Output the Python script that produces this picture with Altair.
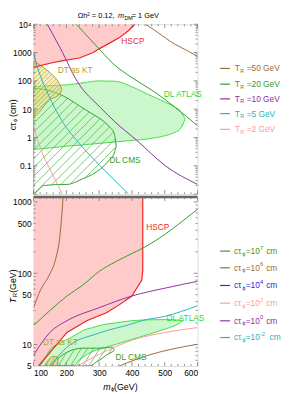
import numpy as np
import pandas as pd
import altair as alt

FONT = "Liberation Sans"
W, H1, H2 = 167, 173, 172
XDOM = [100, 600]
Y1DOM = [0.01, 1e4]
Y2DOM = [5, 1170]

# ---------------- top panel: c tau vs m_phi for fixed T_R ----------------
tr_names = ["TR50", "TR20", "TR10", "TR5", "TR2"]
tr_labels = ["=50 GeV", "=20 GeV", "=10 GeV", "=5 GeV", "=2 GeV"]
tr_colors = ["#9d6a3a", "#2e9e2e", "#8f2f9f", "#2bb5b5", "#ff9a9a"]
tr50_m = [442, 480, 530, 570, 600]
tr50_ct = [1e4, 5000, 2000, 1150, 720]
tr20_m = [230, 290, 343, 400, 470, 530, 600]
tr20_ct = [1e4, 1800, 400, 130, 40, 12, 2.6]
tr10_m = [142, 182, 236, 303, 348, 415, 502, 600]
tr10_ct = [1e4, 1400, 85, 11.7, 3.6, 0.79, 0.1, 0.022]
tr5_m = [100, 106, 145, 186, 242, 303, 390]
tr5_ct = [1000, 530, 33, 4, 0.57, 0.1, 0.01]
tr2_m = [100, 127, 158, 188]
tr2_ct = [2.4, 0.28, 0.049, 0.01]

# regions (top)
hscp1_m = [100, 150, 190, 240, 282, 300, 361, 390, 409]
hscp1_lo = [300, 420, 520, 640, 1000, 1350, 3300, 6000, 1e4]
dt1_m = [100, 112, 130, 151, 171, 181, 186]
dt1_up = [500, 420, 300, 190, 110, 70, 49]
dt1_lo = [5.3, 6.7, 12, 22, 28, 36, 49]
atl1_m = [100, 150, 200, 250, 300, 350, 400, 450, 500, 530, 550, 562]
atl1_up = [62, 68, 72, 85, 100, 97, 62, 33, 18, 12, 8, 4.5]
atl1_lo = [0.38, 0.43, 0.49, 0.55, 0.62, 0.7, 0.79, 0.9, 1.15, 1.5, 2.2, 4.5]
cms1_m = [100, 115, 130, 150, 181, 202, 232, 250, 280, 301, 331, 346, 352]
cms1_up = [55, 53, 50, 45, 33, 25, 15, 11, 6.7, 4.8, 2.4, 1.4, 0.5]
cms1_lo = [0.01, 0.014, 0.02, 0.021, 0.022, 0.022, 0.028, 0.035, 0.05, 0.073, 0.16, 0.28, 0.5]

# ---------------- bottom panel: T_R vs m_phi for fixed c tau ----------------
ct_names = ["CT7", "CT6", "CT4", "CT2", "CT0", "CTm2"]
ct_exps = ["7", "6", "4", "2", "0", "-2"]
ct_colors = ["#3a9a2a", "#9d6a3a", "#2a2ae6", "#ff9a9a", "#8f2f9f", "#2bb5b5"]
ct7_m = [100, 121, 151, 166, 181, 188, 190]
ct7_T = [32.7, 58, 100, 150, 355, 850, 1170]
ct6_m = [100, 150, 202, 250, 301, 350, 400, 433, 502, 550, 600]
ct6_T = [18.5, 30, 48, 68, 107, 145, 189, 225, 355, 520, 790]
ct4_m = [100, 150, 202, 301, 400, 502, 600]
ct4_T = [7.1, 14.8, 21.6, 33, 48, 62, 77]
ct2_m = [150, 200, 300, 400, 430, 502, 600]
ct2_T = [5, 9, 14.5, 19.5, 21.6, 25, 35]
ct0_m = [232, 301, 400, 502, 600]
ct0_T = [5, 7.3, 11.5, 14.8, 17.3]
ctm2_m = [361, 451, 600]
ctm2_T = [5, 7.1, 10.1]

hscp2_m = [100, 115, 151, 202, 262, 322, 361, 400, 415, 430, 433, 433]
hscp2_lo = [5, 5, 7.8, 14.8, 21.6, 27.9, 36, 48, 62, 80, 109, 1170]
atl2_m = [121, 135, 151, 175, 202, 220, 241, 250, 280, 301, 352, 400, 451, 502, 532, 556]
atl2_up = [5, 6.5, 8.6, 10.2, 11.8, 13, 14.8, 15.7, 17.3, 18.5, 20.2, 21.6, 22.2, 22.4, 22.2, 21.6]
atl2_lo = [5, 5, 5, 5, 5, 5, 6.2, 6.6, 8, 8.6, 10.1, 11.8, 13.9, 16.5, 18.5, 21.6]
cms2_m = [151, 172, 202, 250, 271, 292, 301, 322, 340, 346]
cms2_up = [5, 6.2, 7.8, 8.9, 8.9, 8.9, 8.9, 9.0, 9.2, 8.3]
cms2_lo = [5, 5, 5, 5, 5, 5.7, 6.0, 7.1, 7.9, 8.3]
dt2_m = [133, 145, 160, 172, 175]
dt2_up = [5, 6, 6.8, 6.7, 6.6]
dt2_lo = [5, 5, 5, 5, 6.6]

top_ticks = [10000, 1000, 100, 10, 1, 0.1]
bot_ticks = [1000, 500, 100, 50, 10, 5]
x_ticks = [100, 200, 300, 400, 500, 600]

# ---------------- scales and axes ----------------
xscale = alt.Scale(domain=XDOM, nice=False, zero=False)
lab_axis = dict(ticks=False, domain=False, grid=False, labelFont=FONT, labelFontSize=8.5,
                labelPadding=2.5, labelColor="#000", title=None, minExtent=0)
AX = {
    "top": (None,
            alt.Axis(values=top_ticks,
                     labelExpr="datum.value >= 10000 ? '10⁴' : format(datum.value, '~g')", **lab_axis)),
    "bot": (alt.Axis(values=x_ticks, labelExpr="format(datum.value, '~g')", **lab_axis),
            alt.Axis(values=bot_ticks, labelExpr="format(datum.value, '~g')", **lab_axis)),
}
DOM = {"top": Y1DOM, "bot": Y2DOM}
HGT = {"top": H1, "bot": H2}


def X(p):
    return alt.X("m:Q", scale=xscale, axis=AX[p][0])


def Y(p):
    return alt.Y("v:Q", scale=alt.Scale(type="log", domain=DOM[p], nice=False), axis=AX[p][1])


def curves_df(names, ms, vs):
    rows = []
    for n, m, v in zip(names, ms, vs):
        for i, (a, b) in enumerate(zip(m, v)):
            rows.append(dict(series=n, m=a, v=b, o=i))
    return pd.DataFrame(rows)


def region_df(m, up, lo):
    return pd.DataFrame(dict(m=m, v=up, v2=lo))


def hatch_df(m, up, lo, p, step, slope):
    ydom, Hh = DOM[p], HGT[p]
    xs = np.array(list(m) + list(m[::-1]), float)
    ys = np.array(list(up) + list(lo[::-1]), float)
    l0, l1 = np.log10(ydom[0]), np.log10(ydom[1])
    u = (xs - XDOM[0]) / (XDOM[1] - XDOM[0]) * W
    w = (np.log10(ys) - l0) / (l1 - l0) * Hh
    g = w - slope * u
    rows = []
    n = len(u)
    c = np.floor(g.min() / step) * step
    while c < g.max():
        ts = []
        for i in range(n):
            j = (i + 1) % n
            a, b = g[i] - c, g[j] - c
            if (a < 0) != (b < 0):
                t = a / (a - b)
                ts.append(u[i] + t * (u[j] - u[i]))
        ts.sort()
        for k in range(0, len(ts) - 1, 2):
            ua, ub = ts[k], ts[k + 1]
            wa, wb = slope * ua + c, slope * ub + c
            rows.append(dict(
                m=XDOM[0] + ua / W * (XDOM[1] - XDOM[0]),
                v=10 ** (l0 + wa / Hh * (l1 - l0)),
                m2=XDOM[0] + ub / W * (XDOM[1] - XDOM[0]),
                v2=10 ** (l0 + wb / Hh * (l1 - l0)),
            ))
        c += step
    return pd.DataFrame(rows)


def area(df, p, fill, fop, stroke, interp="monotone", sw=1.0):
    kw = dict(clip=True, interpolate=interp, fill=fill, fillOpacity=fop, opacity=1)
    if stroke:
        kw.update(stroke=stroke, strokeWidth=sw)
    else:
        kw.update(strokeWidth=0)
    return alt.Chart(df).mark_area(**kw).encode(x=X(p), y=Y(p), y2="v2:Q")


def hatch(df, p, color, sw=0.7):
    return alt.Chart(df).mark_rule(clip=True, color=color, strokeWidth=sw).encode(
        x=X(p), y=Y(p), x2="m2:Q", y2="v2:Q")


def lines(df, p, names, colors, interp="monotone", sw=1.0):
    return alt.Chart(df).mark_line(clip=True, interpolate=interp, strokeWidth=sw).encode(
        x=X(p), y=Y(p),
        color=alt.Color("series:N", scale=alt.Scale(domain=names, range=colors), legend=None),
        order="o:Q")


def data_text(rows, p):
    df = pd.DataFrame(rows, columns=["m", "v", "t", "c"])
    return alt.Chart(df).mark_text(font=FONT, fontSize=8.5, align="center", baseline="middle").encode(
        x=X(p), y=Y(p), text="t:N", color=alt.Color("c:N", scale=None))


def pix_text(rows, align="left", italic=False, angle=0):
    df = pd.DataFrame(rows, columns=["px", "py", "t", "c", "s"])
    kw = dict(font=FONT, align=align, baseline="middle", angle=angle)
    if italic:
        kw["fontStyle"] = "italic"
    return alt.Chart(df).mark_text(**kw).encode(
        x=alt.X("px:Q", scale=None, axis=None),
        y=alt.Y("py:Q", scale=None, axis=None),
        text="t:N", color=alt.Color("c:N", scale=None),
        size=alt.Size("s:Q", scale=None, legend=None))


def minors(lo, hi):
    out = []
    for e in range(int(np.floor(np.log10(lo))), int(np.ceil(np.log10(hi))) + 1):
        for k in range(2, 10):
            v = k * 10 ** e
            if lo < v < hi:
                out.append(v)
    return out


def frame_ticks(p, y_major):
    Hh = HGT[p]
    parts = []
    dmaj = pd.DataFrame(dict(v=y_major))
    dmin = pd.DataFrame(dict(v=minors(*DOM[p])))
    for d, L in ((dmaj, 4), (dmin, 2)):
        for x0, x1 in ((0, L), (W, W - L)):
            parts.append(alt.Chart(d).mark_rule(color="#777", strokeWidth=0.8).encode(
                y=Y(p), x=alt.value(x0), x2=alt.value(x1)))
    xmaj = pd.DataFrame(dict(m=x_ticks))
    xmin = pd.DataFrame(dict(m=[v for v in range(120, 600, 20) if v % 100]))
    for d, L in ((xmaj, 4), (xmin, 2)):
        for y0, y1 in ((0, L), (Hh, Hh - L)):
            parts.append(alt.Chart(d).mark_rule(color="#777", strokeWidth=0.8).encode(
                x=X(p), y=alt.value(y0), y2=alt.value(y1)))
    return parts


# ---------------- top panel ----------------
hscp1_line = alt.Chart(pd.DataFrame(dict(m=hscp1_m, v=hscp1_lo))).mark_line(
    clip=True, color="#ee2222", strokeWidth=1.2).encode(x=X("top"), y=Y("top"))

top_layers = [
    area(region_df(hscp1_m, [1e4] * len(hscp1_m), hscp1_lo), "top", "#ffcaca", 1.0, None, interp="linear"),
    area(region_df(atl1_m, atl1_up, atl1_lo), "top", "#8fec8f", 0.45, "#44dd44"),
    hatch(hatch_df(cms1_m, cms1_up, cms1_lo, "top", 9, 1.0), "top", "#44b044"),
    area(region_df(cms1_m, cms1_up, cms1_lo), "top", "#ffffff", 0.0, "#35a035"),
    area(region_df(dt1_m, dt1_up, dt1_lo), "top", "#e8dc80", 0.45, "#b09a20"),
    hatch(hatch_df(dt1_m, dt1_up, dt1_lo, "top", 4.5, 1.0), "top", "#b8a228"),
    hscp1_line,
    lines(curves_df(tr_names, [tr50_m, tr20_m, tr10_m, tr5_m, tr2_m],
                    [tr50_ct, tr20_ct, tr10_ct, tr5_ct, tr2_ct]), "top", tr_names, tr_colors),
    data_text([[403, 2600, "HSCP", "#ee2a2a"], [227, 240, "DT as KT", "#b5a22a"],
               [555, 33, "DL ATLAS", "#2ed82e"], [379, 0.16, "DL CMS", "#2e9e2e"]], "top"),
]
top_layers += frame_ticks("top", [0.01, 0.1, 1, 10, 100, 1000, 1e4])

# legend (top): T_R values
leg_y1 = [45, 61, 76, 91, 107]
leg1 = pd.DataFrame(dict(py=leg_y1, c=tr_colors))
top_layers.append(alt.Chart(leg1).mark_rule(strokeWidth=1.2).encode(
    x=alt.value(190), x2=alt.value(200), y=alt.Y("py:Q", scale=None, axis=None),
    color=alt.Color("c:N", scale=None)))
top_layers.append(pix_text([[205, y, "T", c, 8.5] for y, c in zip(leg_y1, tr_colors)]
                           + [[217, y, l, c, 8.5] for y, c, l in zip(leg_y1, tr_colors, tr_labels)]))
top_layers.append(pix_text([[210.5, y + 2.5, "R", c, 5.5] for y, c in zip(leg_y1, tr_colors)]))
# title
top_layers.append(pix_text([[45, -8, "Ωh² = 0.12,", "#000", 7.5], [100, -8, "= 1 GeV", "#000", 7.5]]))
top_layers.append(pix_text([[86, -8, "m", "#000", 7.5]], italic=True))
top_layers.append(pix_text([[92.5, -6, "DM", "#000", 5.5]]))
# y title
top_layers.append(pix_text([[-21, 108, "cτ", "#000", 9], [-21, 94.5, " (cm)", "#000", 9]], angle=270))
top_layers.append(pix_text([[-18.5, 99.5, "ϕ", "#000", 6]], angle=270))

top = alt.layer(*top_layers).properties(width=W, height=H1)

# ---------------- bottom panel ----------------
hscp2_line = alt.Chart(pd.DataFrame(dict(m=hscp2_m[1:], v=hscp2_lo[1:],
                                         o=list(range(len(hscp2_m) - 1))))).mark_line(
    clip=True, color="#ee2222", strokeWidth=1.2).encode(x=X("bot"), y=Y("bot"), order="o:Q")

bot_layers = [
    area(region_df(hscp2_m, [1170] * len(hscp2_m), hscp2_lo), "bot", "#ffcaca", 1.0, None, interp="linear"),
    area(region_df(atl2_m, atl2_up, atl2_lo), "bot", "#8fec8f", 0.45, "#44dd44"),
    hatch(hatch_df(cms2_m, cms2_up, cms2_lo, "bot", 10, 1.6), "bot", "#44b044"),
    area(region_df(cms2_m, cms2_up, cms2_lo), "bot", "#ffffff", 0.0, "#35a035"),
    area(region_df(dt2_m, dt2_up, dt2_lo), "bot", "#e8dc80", 0.45, "#b09a20"),
    hatch(hatch_df(dt2_m, dt2_up, dt2_lo, "bot", 5, 1.6), "bot", "#b8a228"),
    hscp2_line,
    lines(curves_df(ct_names, [ct7_m, ct6_m, ct4_m, ct2_m, ct0_m, ctm2_m],
                    [ct7_T, ct6_T, ct4_T, ct2_T, ct0_T, ctm2_T]), "bot", ct_names, ct_colors),
    data_text([[479, 446, "HSCP", "#ee2a2a"], [182, 10.7, "DT as KT", "#b5a22a"],
               [563, 23.8, "DL ATLAS", "#2ed82e"], [397, 6.7, "DL CMS", "#2e9e2e"]], "bot"),
]
bot_layers += frame_ticks("bot", [10, 100, 1000])
# separator between the panels
bot_layers.append(alt.Chart(pd.DataFrame(dict(a=[0]))).mark_rule(color="#666", strokeWidth=2.5).encode(
    x=alt.value(0), x2=alt.value(W), y=alt.value(0)))

leg_y2 = [55, 72, 90, 108, 126, 143]
leg2 = pd.DataFrame(dict(py=leg_y2, c=ct_colors))
bot_layers.append(alt.Chart(leg2).mark_rule(strokeWidth=1.2).encode(
    x=alt.value(190), x2=alt.value(200), y=alt.Y("py:Q", scale=None, axis=None),
    color=alt.Color("c:N", scale=None)))
rows_main = []
rows_sub = []
rows_sup = []
for y, c, e in zip(leg_y2, ct_colors, ct_exps):
    rows_main += [[204, y, "cτ", c, 8.5], [216, y, "=10", c, 8.5],
                  [231.5 + 3.4 * len(e) + 2, y, "cm", c, 8.5]]
    rows_sub.append([212.5, y + 2.5, "ϕ", c, 6])
    rows_sup.append([230.5, y - 3.5, e, c, 6])
bot_layers.append(pix_text(rows_main))
bot_layers.append(pix_text(rows_sub + rows_sup))
# axis titles
bot_layers.append(pix_text([[-21, 108, "T", "#000", 9]], italic=True, angle=270))
bot_layers.append(pix_text([[-18.5, 102, "R", "#000", 6], [-21, 97.5, " (GeV)", "#000", 9]], angle=270))
bot_layers.append(pix_text([[71, 193, "m", "#000", 9]], italic=True))
bot_layers.append(pix_text([[79, 195, "ϕ", "#000", 6], [82, 193, " (GeV)", "#000", 9]]))

bottom = alt.layer(*bot_layers).properties(width=W, height=H2)

chart = alt.vconcat(top, bottom, spacing=0).properties(
    padding={"left": 0, "top": 0, "right": 0, "bottom": 0}
).configure_view(stroke="#888", strokeWidth=1).configure(background="white")

chart.save("out.html", embed_options={"renderer": "svg", "actions": False})
